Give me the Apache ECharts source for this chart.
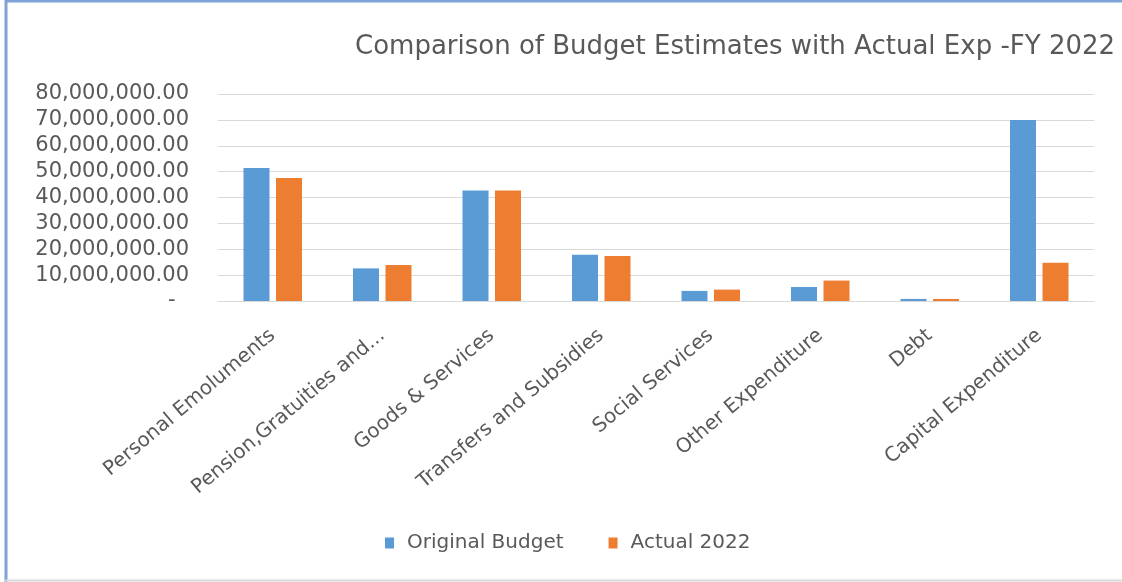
<!DOCTYPE html>
<html>
<head>
<meta charset="utf-8">
<script src="https://cdn.jsdelivr.net/npm/echarts@6/dist/echarts.min.js"></script>
<style>
  html, body { margin: 0; padding: 0; background: #fff; }
  #chart { width: 1122px; height: 582px; }
</style>
</head>
<body>
<div id="chart"></div>
<script>
// categories and values
var categories = ['Personal Emoluments', 'Pension,Gratuities and...', 'Goods & Services', 'Transfers and Subsidies',
  'Social Services', 'Other Expenditure', 'Debt', 'Capital Expenditure'];
var originalBudget = [51400000, 12600000, 42700000, 17900000, 3900000, 5400000, 800000, 70000000];
var actual2022 = [47500000, 13900000, 42700000, 17400000, 4400000, 7900000, 800000, 14800000];
var seriesNames = ['Original Budget', 'Actual 2022'];

var chart = echarts.init(document.getElementById('chart'));

// 金额格式：千分位 + 两位小数，0 显示为 "-"
function fmtMoney(v) {
  if (v === 0) return '-  ';
  return v.toLocaleString('en-US', { minimumFractionDigits: 2, maximumFractionDigits: 2 });
}

var option = {
  backgroundColor: '#fff',
  animation: false,
  textStyle: { fontFamily: 'DejaVu Sans' },
  title: {
    text: 'Comparison of Budget Estimates with Actual Exp -FY 2022',
    left: 350,
    top: 29,
    textStyle: { color: '#595959', fontSize: 26, fontWeight: 'normal', fontFamily: 'DejaVu Sans' }
  },
  legend: {
    data: seriesNames,
    left: 380,
    top: 528,
    itemWidth: 9,
    itemHeight: 11,
    itemGap: 45,
    icon: 'rect',
    textStyle: { color: '#595959', fontSize: 20, fontFamily: 'DejaVu Sans', padding: [0, 0, 0, 8] }
  },
  grid: { left: 218, right: 28, top: 94, bottom: 281 },
  xAxis: {
    type: 'category',
    data: categories,
    axisLine: { lineStyle: { color: '#d9d9d9', width: 1 } },
    axisTick: { show: false },
    axisLabel: {
      rotate: 40,
      interval: 0,
      margin: 32,
      color: '#595959',
      fontSize: 20,
      fontFamily: 'DejaVu Sans'
    }
  },
  yAxis: {
    type: 'value',
    min: 0,
    max: 80000000,
    interval: 10000000,
    axisLine: { show: false },
    axisTick: { show: false },
    splitLine: { lineStyle: { color: '#d9d9d9', width: 1 } },
    axisLabel: {
      margin: 29,
      color: '#595959',
      fontSize: 21,
      fontFamily: 'DejaVu Sans',
      formatter: fmtMoney
    }
  },
  series: [
    {
      name: seriesNames[0],
      type: 'bar',
      data: originalBudget,
      barWidth: 26,
      barGap: '25%',
      itemStyle: { color: '#5b9bd5' }
    },
    {
      name: seriesNames[1],
      type: 'bar',
      data: actual2022,
      barWidth: 26,
      itemStyle: { color: '#ed7d31' }
    }
  ],
  // 外框线
  graphic: [
    { type: 'line', shape: { x1: 6, y1: 0, x2: 6, y2: 582 }, style: { stroke: '#7fa3d6', lineWidth: 3 } },
    { type: 'line', shape: { x1: 5, y1: 1, x2: 1122, y2: 1 }, style: { stroke: '#7fa3d6', lineWidth: 3 } },
    { type: 'line', shape: { x1: 5, y1: 580.5, x2: 1122, y2: 580.5 }, style: { stroke: '#d9d9d9', lineWidth: 2 } }
  ]
};

chart.setOption(option);
</script>
</body>
</html>
